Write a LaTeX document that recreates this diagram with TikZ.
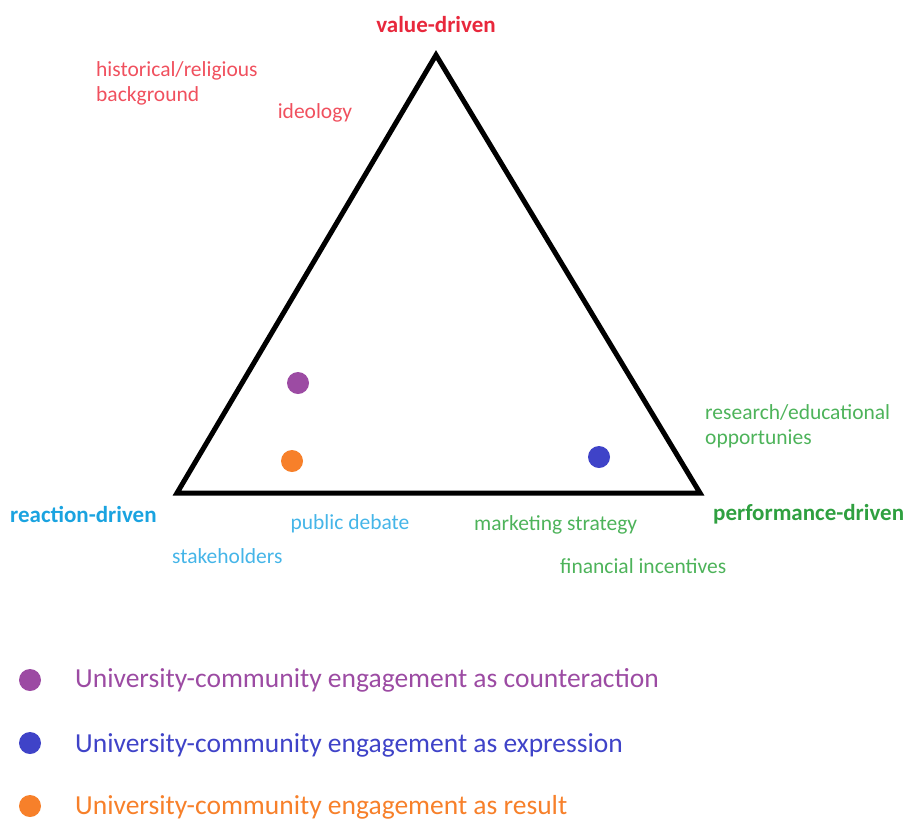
\documentclass[tikz,border=0pt]{standalone}
\usepackage{fontspec}
\setmainfont{Carlito}
\usepackage{tikz}
\usepackage{xcolor}
\definecolor{valred}{HTML}{E8283C}
\definecolor{lightred}{HTML}{F0505E}
\definecolor{reactblue}{HTML}{1AA3E0}
\definecolor{lightblue}{HTML}{45B5E8}
\definecolor{perfgreen}{HTML}{2FA040}
\definecolor{lightgreen}{HTML}{4DB35A}
\definecolor{dotpurple}{HTML}{9C4BA3}
\definecolor{dotblue}{HTML}{3F43C8}
\definecolor{dotorange}{HTML}{F7802A}
\tikzset{
    pole-label/.style = {font=\fontsize{23}{26}\selectfont\bfseries, inner sep=0pt},
    side-label/.style = {font=\fontsize{21.5}{25}\selectfont, inner sep=0pt, align=left},
    legend-label/.style = {font=\fontsize{27.5}{30}\selectfont, inner sep=0pt, anchor=west},
    type-dot/.style = {circle, minimum size=22pt, inner sep=0pt},
}

\begin{document}
\begin{tikzpicture}[x=1pt, y=-1pt]
\useasboundingbox (0,0) rectangle (909,823);
% triangle
\coordinate (top) at (436,55);
\coordinate (left) at (177,493);
\coordinate (right) at (700,493);
\draw[line width=5pt, line join=miter] (top) -- (left) -- (right) -- cycle;

% corner labels
\node[pole-label, text=valred] (value) at (436,25) {value-driven};
\node[pole-label, text=reactblue, anchor=west] (reaction) at (10,514) {reaction-driven};
\node[pole-label, text=perfgreen, anchor=west] (performance) at (713,514) {performance-driven};

% factors
\node[side-label, text=lightred, anchor=west] (history) at (96,83) {historical/religious\\background};
\node[side-label, text=lightred] (ideology) at (315,113) {ideology};
\node[side-label, text=lightblue] (debate) at (350,524) {public debate};
\node[side-label, text=lightblue, anchor=west] (stakeholders) at (172,556) {stakeholders};
\node[side-label, text=lightgreen, anchor=west] (marketing) at (474,525) {marketing strategy};
\node[side-label, text=lightgreen, anchor=west] (financial) at (560,566) {financial incentives};
\node[side-label, text=lightgreen, anchor=west] (research) at (705,426) {research/educational\\opportunies};

% positions
\node[type-dot, fill=dotpurple] (counter) at (298,383) {};
\node[type-dot, fill=dotorange] (result) at (292,461) {};
\node[type-dot, fill=dotblue] (expression) at (599,457) {};

% legend
\node[type-dot, fill=dotpurple] (key-counter) at (30,680) {};
\node[type-dot, fill=dotblue] (key-expression) at (30,743) {};
\node[type-dot, fill=dotorange] (key-result) at (30,806) {};
\node[legend-label, text=dotpurple] at (75,680) {University-community engagement as counteraction};
\node[legend-label, text=dotblue] at (75,745) {University-community engagement as expression};
\node[legend-label, text=dotorange] at (75,807) {University-community engagement as result};
\end{tikzpicture}
\end{document}
